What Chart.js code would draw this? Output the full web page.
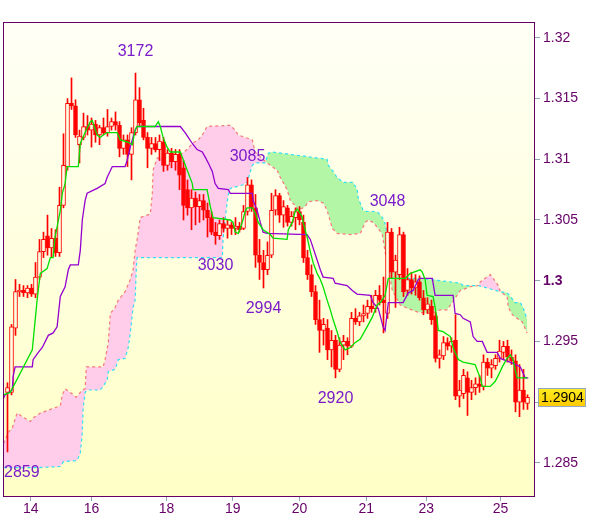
<!DOCTYPE html>
<html>
<head>
<meta charset="utf-8">
<script src="https://cdn.jsdelivr.net/npm/chart.js@4.4.0/dist/chart.umd.min.js"></script>
<style>
  html, body { margin: 0; padding: 0; background: #fff; }
  canvas { display: block; }
</style>
</head>
<body>
<canvas id="ichimoku" width="600" height="519"></canvas>
<script>
// hourly candles, index 0..130
const opens = [
  1.2908,1.2908,1.2961,1.2991,1.2992,1.2990,1.2994,1.2989,1.3003,1.3024,
  1.3037,1.3027,1.3035,1.3023,1.3062,1.3094,1.3146,1.3144,1.3112,1.3118,
  1.3127,1.3124,1.3129,1.3120,1.3126,1.3122,1.3127,1.3131,1.3128,1.3109,
  1.3116,1.3104,1.3122,1.3149,1.3132,1.3118,1.3109,1.3113,1.3108,1.3114,
  1.3095,1.3105,1.3098,1.3104,1.3093,1.3075,1.3060,1.3068,1.3061,1.3066,
  1.3058,1.3052,1.3040,1.3037,1.3047,1.3043,1.3046,1.3043,1.3045,1.3043,
  1.3057,1.3079,1.3060,1.3021,1.3015,1.3009,1.3021,1.3058,1.3070,1.3054,
  1.3060,1.3048,1.3052,1.3057,1.3048,1.3019,1.3005,1.2991,1.2968,1.2959,
  1.2961,1.2943,1.2951,1.2927,1.2947,1.2950,1.2946,1.2969,1.2966,1.2971,
  1.2973,1.2979,1.2977,1.2988,1.2984,1.2973,1.3040,1.3007,1.3005,1.3038,
  1.2992,1.3001,1.2994,1.2999,1.2986,1.2976,1.2979,1.2971,1.2936,1.2938,
  1.2949,1.2946,1.2951,1.2905,1.2907,1.2920,1.2908,1.2912,1.2915,1.2913,
  1.2933,1.2928,1.2930,1.2936,1.2941,1.2946,1.2937,1.2934,1.2900,1.2910,
  1.2899
];
const highs = [
  1.2916,1.2964,1.3001,1.2997,1.2996,1.2996,1.2997,1.3015,1.3034,1.3040,
  1.3054,1.3043,1.3042,1.3077,1.3121,1.3150,1.3167,1.3149,1.3124,1.3138,
  1.3136,1.3134,1.3132,1.3128,1.3134,1.3141,1.3134,1.3139,1.3131,1.3120,
  1.3120,1.3126,1.3171,1.3159,1.3142,1.3122,1.3118,1.3118,1.3120,1.3118,
  1.3108,1.3109,1.3108,1.3108,1.3099,1.3083,1.3075,1.3073,1.3071,1.3071,
  1.3064,1.3057,1.3048,1.3050,1.3052,1.3050,1.3048,1.3052,1.3048,1.3062,
  1.3085,1.3083,1.3071,1.3034,1.3025,1.3032,1.3072,1.3075,1.3072,1.3066,
  1.3062,1.3057,1.3060,1.3061,1.3054,1.3025,1.3013,1.2996,1.2984,1.2969,
  1.2968,1.2959,1.2955,1.2953,1.2955,1.2953,1.2974,1.2977,1.2974,1.2980,
  1.2984,1.2988,1.2992,1.2996,1.3003,1.3048,1.3043,1.3021,1.3044,1.3040,
  1.3010,1.3007,1.3005,1.3004,1.2992,1.2986,1.2984,1.2974,1.2943,1.2954,
  1.2953,1.2953,1.2972,1.2918,1.2927,1.2925,1.2918,1.2920,1.2922,1.2939,
  1.2936,1.2935,1.2939,1.2951,1.2950,1.2951,1.2943,1.2939,1.2931,1.2927,
  1.2906
];
const lows = [
  1.2859,1.2906,1.2955,1.2987,1.2987,1.2986,1.2987,1.2986,1.3001,1.3019,
  1.3021,1.3019,1.3020,1.3020,1.3060,1.3091,1.3141,1.3118,1.3097,1.3116,
  1.3120,1.3110,1.3114,1.3112,1.3120,1.3119,1.3124,1.3124,1.3102,1.3104,
  1.3094,1.3083,1.3120,1.3127,1.3116,1.3093,1.3104,1.3106,1.3099,1.3090,
  1.3091,1.3093,1.3091,1.3075,1.3050,1.3054,1.3042,1.3046,1.3048,1.3050,
  1.3036,1.3038,1.3030,1.3034,1.3040,1.3035,1.3038,1.3038,1.3040,1.3042,
  1.3054,1.3057,1.3011,1.3001,1.2994,1.3005,1.3019,1.3054,1.3048,1.3044,
  1.3045,1.3045,1.3042,1.3046,1.3015,1.3001,1.2987,1.2964,1.2941,1.2947,
  1.2935,1.2929,1.2920,1.2925,1.2935,1.2939,1.2945,1.2964,1.2963,1.2966,
  1.2969,1.2974,1.2974,1.2980,1.2957,1.2969,1.3002,1.2978,1.3001,1.2987,
  1.2988,1.2989,1.2988,1.2984,1.2972,1.2973,1.2964,1.2933,1.2928,1.2935,
  1.2943,1.2941,1.2902,1.2896,1.2903,1.2889,1.2902,1.2906,1.2908,1.2910,
  1.2922,1.2920,1.2927,1.2933,1.2935,1.2933,1.2931,1.2892,1.2888,1.2894,
  1.2894
];
const closes = [
  1.2912,1.2962,1.2991,1.2992,1.2990,1.2994,1.2989,1.3003,1.3024,1.3034,
  1.3027,1.3035,1.3023,1.3062,1.3095,1.3146,1.3144,1.3120,1.3119,1.3127,
  1.3124,1.3129,1.3120,1.3126,1.3122,1.3127,1.3131,1.3128,1.3109,1.3116,
  1.3104,1.3122,1.3149,1.3130,1.3118,1.3109,1.3113,1.3108,1.3115,1.3095,
  1.3105,1.3098,1.3104,1.3087,1.3062,1.3060,1.3068,1.3061,1.3066,1.3058,
  1.3052,1.3040,1.3037,1.3047,1.3043,1.3046,1.3043,1.3045,1.3042,1.3057,
  1.3079,1.3060,1.3021,1.3015,1.3009,1.3021,1.3058,1.3070,1.3054,1.3061,
  1.3048,1.3053,1.3057,1.3050,1.3019,1.3005,1.2991,1.2968,1.2959,1.2964,
  1.2943,1.2951,1.2927,1.2947,1.2950,1.2946,1.2969,1.2966,1.2971,1.2973,
  1.2979,1.2977,1.2988,1.2984,1.2982,1.3040,1.3007,1.3017,1.3038,1.2991,
  1.3001,1.2994,1.2999,1.2986,1.2976,1.2981,1.2968,1.2936,1.2939,1.2949,
  1.2946,1.2950,1.2905,1.2910,1.2922,1.2908,1.2912,1.2915,1.2913,1.2933,
  1.2928,1.2931,1.2936,1.2942,1.2946,1.2937,1.2934,1.2900,1.2910,1.2900,
  1.2904
];

// indicator lines: [bar position, price] at the corners
const tenkan = [
  [0,1.2906],[1.7,1.2908],[7.2,1.2943],[8.4,1.2984],[9.2,1.3006],[10.9,1.3010],[11.7,1.3019],[12.4,1.3019],
  [12.9,1.3036],[14.2,1.3058],[14.7,1.3072],[15.4,1.3080],[15.9,1.3094],[18.7,1.3094],[19.2,1.3113],[20.4,1.3122],
  [21.7,1.3131],[22.2,1.3132],[23.4,1.3120],[24.2,1.3118],[24.9,1.3120],[25.9,1.3122],[28.4,1.3122],[29.2,1.3116],
  [31.2,1.3114],[32.2,1.3112],[32.9,1.3124],[33.4,1.3127],[37.9,1.3127],[38.7,1.3131],[39.2,1.3127],[39.9,1.3118],
  [40.9,1.3110],[41.7,1.3106],[44.2,1.3106],[47.2,1.3080],[47.4,1.3075],[50.9,1.3075],[51.7,1.3061],[52.4,1.3052],
  [56.7,1.3050],[57.4,1.3048],[57.9,1.3040],[58.7,1.3039],[59.7,1.3048],[60.4,1.3057],[60.9,1.3060],[62.2,1.3060],
  [62.9,1.3056],[63.7,1.3048],[64.9,1.3042],[66.7,1.3038],[67.4,1.3035],[70.9,1.3034],[71.2,1.3042],[72.2,1.3048],
  [72.9,1.3057],[73.4,1.3059],[73.9,1.3057],[74.7,1.3052],[74.9,1.3048],[75.9,1.3036],[76.7,1.3024],[77.4,1.3015],
  [78.4,1.3006],[79.2,1.3001],[79.9,1.2995],[80.9,1.2984],[81.7,1.2976],[82.4,1.2968],[83.4,1.2958],[84.2,1.2949],
  [85.4,1.2943],[86.7,1.2945],[87.9,1.2949],[89.2,1.2952],[90.9,1.2962],[92.2,1.2970],[93.4,1.2980],[94.2,1.2982],
  [95.4,1.2988],[96.2,1.3002],[100.4,1.3002],[101.7,1.3006],[104.2,1.3009],[104.7,1.3007],[105.4,1.3001],[105.9,1.2988],
  [107.4,1.2987],[107.9,1.2978],[108.4,1.2968],[108.7,1.2959],[109.9,1.2958],[111.7,1.2954],[112.4,1.2945],[112.9,1.2941],
  [113.7,1.2935],[114.9,1.2933],[117.9,1.2931],[118.7,1.2924],[119.2,1.2920],[119.7,1.2913],[121.7,1.2913],[122.9,1.2917],
  [123.7,1.2922],[124.7,1.2929],[125.9,1.2936],[126.7,1.2939],[127.4,1.2935],[127.9,1.2927],[128.4,1.2920],[130.9,1.2920]
];
const kijun = [
  [0,1.2903],[0.4,1.2906],[2.2,1.2910],[2.4,1.2921],[2.9,1.2929],[7.2,1.2929],[7.4,1.2935],[8.7,1.2941],
  [9.7,1.2945],[11.2,1.2955],[12.4,1.2957],[13.4,1.2962],[14.2,1.2987],[15.4,1.2995],[16.2,1.3009],[16.7,1.3013],
  [18.7,1.3013],[19.2,1.3025],[19.7,1.3050],[20.4,1.3066],[20.9,1.3072],[23.4,1.3076],[25.4,1.3080],[25.9,1.3085],
  [27.2,1.3094],[30.4,1.3094],[30.9,1.3099],[31.7,1.3110],[32.2,1.3116],[32.9,1.3124],[33.4,1.3127],[44.2,1.3127],
  [45.4,1.3122],[46.2,1.3118],[47.2,1.3113],[48.4,1.3108],[49.7,1.3106],[50.4,1.3102],[51.2,1.3097],[52.2,1.3090],
  [52.9,1.3080],[53.7,1.3076],[56.2,1.3075],[56.7,1.3072],[62.2,1.3072],[62.4,1.3066],[63.4,1.3058],[64.2,1.3048],
  [64.9,1.3040],[65.9,1.3039],[75.9,1.3038],[76.7,1.3034],[77.4,1.3027],[78.4,1.3017],[79.2,1.3009],[79.9,1.3003],
  [82.4,1.3002],[82.9,1.2998],[85.9,1.2996],[87.2,1.2992],[88.4,1.2989],[91.7,1.2988],[92.4,1.2982],[93.7,1.2977],
  [94.9,1.2962],[95.4,1.2959],[96.2,1.2982],[99.9,1.2982],[101.2,1.2990],[102.4,1.2992],[103.7,1.3001],[104.2,1.3002],
  [107.2,1.3002],[107.9,1.2988],[112.4,1.2988],[112.9,1.2973],[114.2,1.2972],[114.9,1.2969],[116.7,1.2966],[117.4,1.2954],
  [118.4,1.2950],[119.7,1.2950],[120.9,1.2941],[123.4,1.2941],[124.2,1.2936],[127.4,1.2932],[129.2,1.2929],[129.9,1.2924],
  [130.4,1.2920],[131.2,1.2920]
];
// cloud edges (cyan = span A, salmon = span B)
const spanA = [
  [0,1.2846],[8.4,1.2846],[14.2,1.2847],[15,1.2851],[18.4,1.2852],[19.2,1.2858],[19.7,1.2875],[19.9,1.2894],
  [20.4,1.2908],[20.9,1.2910],[24.2,1.2910],[24.9,1.2913],[25.9,1.2918],[26.2,1.2925],[27.9,1.2927],[28.7,1.2935],
  [30.4,1.2936],[31.2,1.2945],[31.7,1.2957],[32.4,1.2978],[32.9,1.2984],[33.2,1.3009],[33.4,1.3019],[54.7,1.3019],
  [54.9,1.3035],[55.4,1.3050],[55.9,1.3064],[56.2,1.3071],[56.7,1.3076],[59.9,1.3079],[60.9,1.3081],[62.2,1.3095],
  [62.9,1.3097],[65.4,1.3097],[66.2,1.3105],[67.2,1.3106],[80.9,1.3100],[81.2,1.3095],[82.4,1.3090],[83.4,1.3085],
  [84.9,1.3081],[87.4,1.3081],[88.4,1.3075],[88.7,1.3068],[89.9,1.3058],[90.9,1.3057],[92.9,1.3057],[93.7,1.3056],
  [94.7,1.3052],[95.4,1.3047],[96.7,1.3025],[97.9,1.3010],[99.2,1.3002],[104.2,1.3002],[114.2,1.2998],[114.9,1.2996],
  [118.7,1.2996],[124.2,1.2991],[125.9,1.2990],[126.7,1.2987],[127.9,1.2982],[129.2,1.2982],[129.9,1.2978],[130.9,1.2968]
];
const spanB = [
  [0,1.2866],[1.2,1.2875],[2.2,1.2879],[3.4,1.2891],[4.7,1.2888],[6.7,1.2884],[7.4,1.2887],[9.2,1.2891],
  [11.7,1.2894],[14.2,1.2897],[14.7,1.2906],[15.4,1.2911],[16.7,1.2908],[18.2,1.2904],[18.7,1.2906],[19.7,1.2910],
  [20.4,1.2911],[20.7,1.2929],[24.9,1.2929],[25.4,1.2935],[26.2,1.2949],[26.7,1.2973],[27.9,1.2978],[28.7,1.2984],
  [30.4,1.2991],[31.7,1.3001],[32.4,1.3009],[32.9,1.3025],[33.4,1.3034],[34.2,1.3052],[36.7,1.3055],[37.2,1.3072],
  [37.4,1.3091],[38.4,1.3101],[41.7,1.3102],[44.2,1.3104],[45.9,1.3108],[47.2,1.3113],[48.7,1.3116],[49.7,1.3120],
  [50.9,1.3127],[56.7,1.3128],[57.9,1.3124],[58.7,1.3120],[60.4,1.3118],[62.2,1.3116],[62.9,1.3106],[64.2,1.3102],
  [65.9,1.3097],[68.4,1.3091],[69.2,1.3085],[70.9,1.3075],[71.7,1.3066],[72.9,1.3062],[73.7,1.3058],[75.4,1.3061],
  [76.2,1.3065],[78.4,1.3066],[79.9,1.3064],[80.9,1.3058],[82.2,1.3043],[83.4,1.3039],[86.7,1.3038],[89.2,1.3039],
  [90.4,1.3048],[91.2,1.3050],[92.4,1.3048],[93.7,1.3043],[94.7,1.3038],[95.4,1.3024],[97.2,1.2992],[99.2,1.2980],
  [101.2,1.2977],[103.7,1.2974],[106.7,1.2973],[109.2,1.2976],[110.9,1.2976],[112.2,1.2982],[114.2,1.2992],[116.7,1.2995],
  [118.7,1.2996],[119.2,1.2999],[120.4,1.3002],[121.7,1.3005],[122.4,1.3002],[123.7,1.2996],[124.2,1.2991],[125.9,1.2987],
  [126.2,1.2978],[127.2,1.2972],[128.4,1.2969],[129.7,1.2966],[130.9,1.2957]
];

// swing highs / lows marked on the chart
const peakText = ['3172', '3085', '3048', '2859', '3030', '2994', '2920'];
const peakBar = [32, 60, 95, 0, 52, 64, 82];
const peakIsHigh = [true, true, true, false, false, false, false];

const yTicks = [1.285, 1.29, 1.295, 1.3, 1.305, 1.31, 1.315, 1.32];
const yTickLabels = ['1.285', '', '1.295', '1.3', '1.305', '1.31', '1.315', '1.32'];
const xTickLabels = ['14', '16', '18', '19', '20', '21', '23', '25'];
const xTickBars = [6.8, 22, 40.75, 57.3, 74, 90.7, 105.7, 124.25];

const RED = '#ff0000';
const INK = '#660066';
const PEAK_INK = '#7a1bc9';
const TICK = '#8ea3b8';
const FONT = '"Liberation Sans", Arial, sans-serif';

const toXY = pts => pts.map(([x, y]) => ({ x, y }));
const barX = opens.map((_, i) => i + 1);

const plotBg = {
  id: 'plotBg',
  beforeDraw(chart) {
    const { ctx, chartArea: a } = chart;
    const g = ctx.createLinearGradient(0, a.top, 0, a.bottom);
    g.addColorStop(0, '#fffff6');
    g.addColorStop(1, '#ffffc6');
    ctx.save();
    ctx.fillStyle = g;
    ctx.fillRect(a.left, a.top, a.right - a.left, a.bottom - a.top);
    ctx.restore();
  },
  afterDraw(chart) {
    const { ctx, chartArea: a, scales } = chart;
    ctx.save();
    // frame
    ctx.strokeStyle = INK;
    ctx.lineWidth = 1;
    ctx.strokeRect(Math.round(a.left) + 0.5, Math.round(a.top) + 0.5,
                   Math.round(a.right - a.left) - 1, Math.round(a.bottom - a.top));

    // swing labels
    ctx.font = '16px ' + FONT;
    ctx.fillStyle = PEAK_INK;
    ctx.textBaseline = 'middle';
    ctx.textAlign = 'left';
    peakText.forEach((t, i) => {
      const k = peakBar[i];
      const px = scales.x.getPixelForValue(barX[k]);
      const py = peakIsHigh[i] ? scales.y.getPixelForValue(highs[k]) - 21
                               : scales.y.getPixelForValue(lows[k]) + 21;
      const w = ctx.measureText(t).width;
      ctx.fillText(t, Math.max(a.left + 1, px - w / 2), py);
    });

    // last price tag
    const last = closes[closes.length - 1];
    const ty = Math.round(scales.y.getPixelForValue(last));
    const g = ctx.createLinearGradient(0, ty - 9, 0, ty + 10);
    g.addColorStop(0, '#ffee22');
    g.addColorStop(1, '#ffc800');
    ctx.fillStyle = g;
    ctx.fillRect(538, ty - 9, 48, 19);
    ctx.strokeStyle = '#94a8c4';
    ctx.strokeRect(538.5, ty - 8.5, 47, 18);
    ctx.fillStyle = '#000';
    ctx.font = '14px ' + FONT;
    ctx.fillText(last.toFixed(4), 541, ty + 1);
    ctx.restore();
  }
};

const yFont = c => ({
  family: FONT, size: 14,
  weight: c && c.tick && Math.abs(c.tick.value - 1.3) < 1e-9 ? 'bold' : 'normal'
});

new Chart(document.getElementById('ichimoku'), {
  type: 'bar',
  data: {
    datasets: [
      {
        type: 'line', data: toXY(spanA), borderColor: '#2fe0f4', borderWidth: 1.2, borderDash: [3, 3],
        pointRadius: 0, tension: 0, order: 10,
        fill: { target: 1, above: '#b2f6a6', below: '#ffccea' }
      },
      {
        type: 'line', data: toXY(spanB), borderColor: '#f77878', borderWidth: 1.2, borderDash: [3, 3],
        pointRadius: 0, tension: 0, order: 9, fill: false
      },
      {
        type: 'bar', data: barX.map((x, i) => ({ x, y: [lows[i], highs[i]] })),
        backgroundColor: RED, barThickness: 1, grouped: false, order: 8
      },
      {
        type: 'bar', data: barX.map((x, i) => ({ x, y: [opens[i], closes[i]] })),
        backgroundColor: opens.map((o, i) => closes[i] >= o ? '#ffffe2' : RED),
        borderColor: RED, borderWidth: 1, borderSkipped: false, minBarLength: 1,
        barThickness: 4, grouped: false, order: 7
      },
      {
        type: 'line', data: toXY(kijun), borderColor: '#9400d0', borderWidth: 1.3,
        pointRadius: 0, tension: 0, order: 2
      },
      {
        type: 'line', data: toXY(tenkan), borderColor: '#00e000', borderWidth: 1.3,
        pointRadius: 0, tension: 0, order: 1
      }
    ]
  },
  options: {
    responsive: false,
    devicePixelRatio: 1,
    animation: false,
    events: [],
    layout: { padding: { left: 3, top: 22, right: 0, bottom: 0 } },
    plugins: { legend: { display: false }, tooltip: { enabled: false } },
    scales: {
      x: {
        type: 'linear', min: -0.125, max: 132.875, offset: false,
        grid: { drawOnChartArea: false, tickLength: 5, color: TICK, offset: false },
        border: { display: false },
        afterBuildTicks: s => { s.ticks = xTickBars.map(v => ({ value: v })); },
        afterFit: s => { s.height = 23; },
        ticks: {
          autoSkip: false, maxRotation: 0, padding: 0, color: INK,
          font: { family: FONT, size: 14 },
          callback: (v, i) => xTickLabels[i]
        }
      },
      y: {
        position: 'right', min: 1.28227, max: 1.321305,
        grid: { drawOnChartArea: false, tickLength: 5, color: TICK },
        border: { display: false },
        afterBuildTicks: s => { s.ticks = yTicks.map(v => ({ value: v })); },
        afterFit: s => { s.width = 65; },
        ticks: {
          padding: 3, color: INK, autoSkip: false,
          font: yFont,
          callback: (v, i) => yTickLabels[i]
        }
      }
    }
  },
  plugins: [plotBg]
});
</script>
</body>
</html>
